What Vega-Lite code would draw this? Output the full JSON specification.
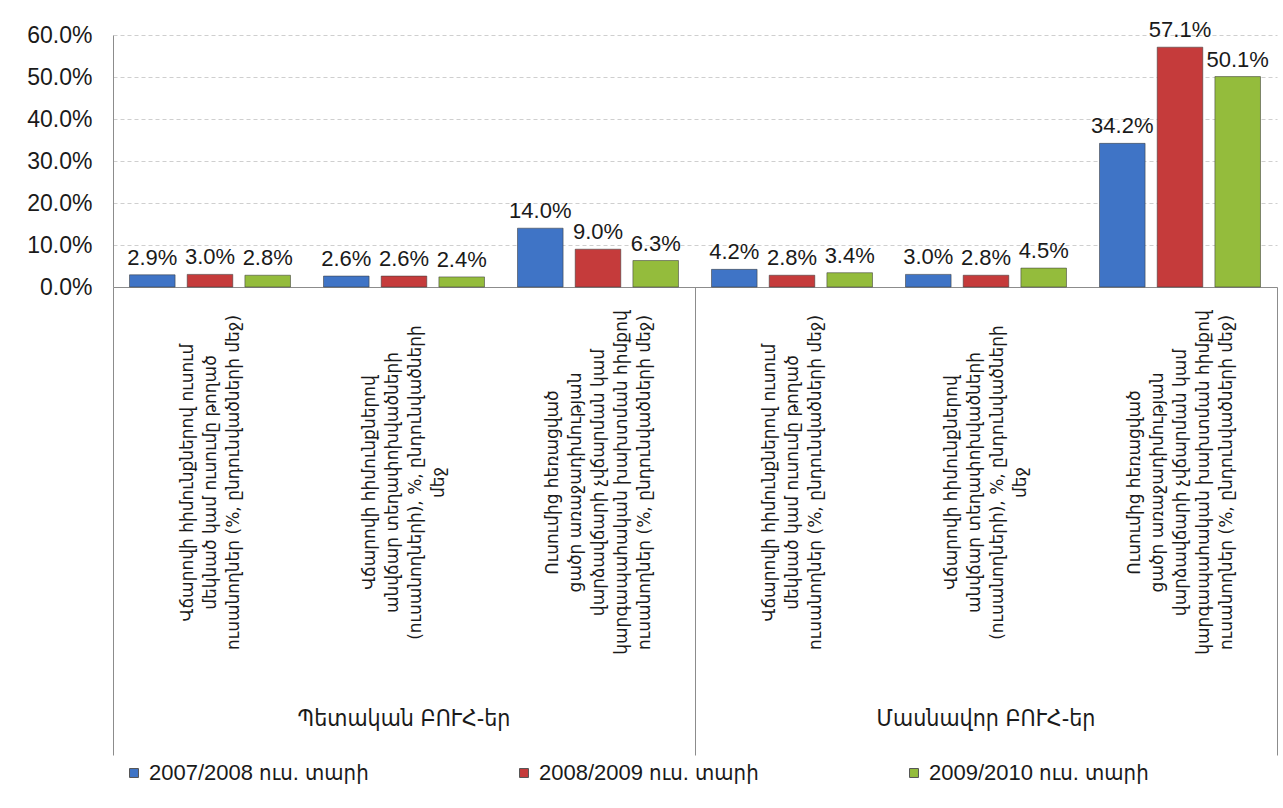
{
  "$schema": "https://vega.github.io/schema/vega-lite/v6.json",
  "width": 1164,
  "height": 252,
  "autosize": "none",
  "padding": {"left": 113, "top": 35, "right": 6, "bottom": 521},
  "background": "white",
  "config": {"view": {"stroke": null}, "font": "Liberation Sans, DejaVu Sans"},
  "datasets": {
    "bars": [
      {"col": "Պետական ԲՈՒՀ-եր: Վճարովի հիմունքներով ուսում|մեկնած կամ ուսումը թողած|ուսանողներ (%, ընդունվածների մեջ)", "year": "2007/2008 ուս. տարի", "share": 0.029},
      {"col": "Պետական ԲՈՒՀ-եր: Վճարովի հիմունքներով ուսում|մեկնած կամ ուսումը թողած|ուսանողներ (%, ընդունվածների մեջ)", "year": "2008/2009 ուս. տարի", "share": 0.030},
      {"col": "Պետական ԲՈՒՀ-եր: Վճարովի հիմունքներով ուսում|մեկնած կամ ուսումը թողած|ուսանողներ (%, ընդունվածների մեջ)", "year": "2009/2010 ուս. տարի", "share": 0.028},
      {"col": "Պետական ԲՈՒՀ-եր: Վճարովի հիմունքներով|անվճար տեղափոխվածների|(ուսանողների), %, ընդունվածների|մեջ", "year": "2007/2008 ուս. տարի", "share": 0.026},
      {"col": "Պետական ԲՈՒՀ-եր: Վճարովի հիմունքներով|անվճար տեղափոխվածների|(ուսանողների), %, ընդունվածների|մեջ", "year": "2008/2009 ուս. տարի", "share": 0.026},
      {"col": "Պետական ԲՈՒՀ-եր: Վճարովի հիմունքներով|անվճար տեղափոխվածների|(ուսանողների), %, ընդունվածների|մեջ", "year": "2009/2010 ուս. տարի", "share": 0.024},
      {"col": "Պետական ԲՈՒՀ-եր: Ուսումից հեռացված|ցածր առաջադիմության|վարձավճարի չվճարման կամ|կարգապահական խախտման հիմքով|ուսանողներ (%, ընդունվածների մեջ)", "year": "2007/2008 ուս. տարի", "share": 0.140},
      {"col": "Պետական ԲՈՒՀ-եր: Ուսումից հեռացված|ցածր առաջադիմության|վարձավճարի չվճարման կամ|կարգապահական խախտման հիմքով|ուսանողներ (%, ընդունվածների մեջ)", "year": "2008/2009 ուս. տարի", "share": 0.090},
      {"col": "Պետական ԲՈՒՀ-եր: Ուսումից հեռացված|ցածր առաջադիմության|վարձավճարի չվճարման կամ|կարգապահական խախտման հիմքով|ուսանողներ (%, ընդունվածների մեջ)", "year": "2009/2010 ուս. տարի", "share": 0.063},
      {"col": "Մասնավոր ԲՈՒՀ-եր: Վճարովի հիմունքներով ուսում|մեկնած կամ ուսումը թողած|ուսանողներ (%, ընդունվածների մեջ)", "year": "2007/2008 ուս. տարի", "share": 0.042},
      {"col": "Մասնավոր ԲՈՒՀ-եր: Վճարովի հիմունքներով ուսում|մեկնած կամ ուսումը թողած|ուսանողներ (%, ընդունվածների մեջ)", "year": "2008/2009 ուս. տարի", "share": 0.028},
      {"col": "Մասնավոր ԲՈՒՀ-եր: Վճարովի հիմունքներով ուսում|մեկնած կամ ուսումը թողած|ուսանողներ (%, ընդունվածների մեջ)", "year": "2009/2010 ուս. տարի", "share": 0.034},
      {"col": "Մասնավոր ԲՈՒՀ-եր: Վճարովի հիմունքներով|անվճար տեղափոխվածների|(ուսանողների), %, ընդունվածների|մեջ", "year": "2007/2008 ուս. տարի", "share": 0.030},
      {"col": "Մասնավոր ԲՈՒՀ-եր: Վճարովի հիմունքներով|անվճար տեղափոխվածների|(ուսանողների), %, ընդունվածների|մեջ", "year": "2008/2009 ուս. տարի", "share": 0.028},
      {"col": "Մասնավոր ԲՈՒՀ-եր: Վճարովի հիմունքներով|անվճար տեղափոխվածների|(ուսանողների), %, ընդունվածների|մեջ", "year": "2009/2010 ուս. տարի", "share": 0.045},
      {"col": "Մասնավոր ԲՈՒՀ-եր: Ուսումից հեռացված|ցածր առաջադիմության|վարձավճարի չվճարման կամ|կարգապահական խախտման հիմքով|ուսանողներ (%, ընդունվածների մեջ)", "year": "2007/2008 ուս. տարի", "share": 0.342},
      {"col": "Մասնավոր ԲՈՒՀ-եր: Ուսումից հեռացված|ցածր առաջադիմության|վարձավճարի չվճարման կամ|կարգապահական խախտման հիմքով|ուսանողներ (%, ընդունվածների մեջ)", "year": "2008/2009 ուս. տարի", "share": 0.571},
      {"col": "Մասնավոր ԲՈՒՀ-եր: Ուսումից հեռացված|ցածր առաջադիմության|վարձավճարի չվճարման կամ|կարգապահական խախտման հիմքով|ուսանողներ (%, ընդունվածների մեջ)", "year": "2009/2010 ուս. տարի", "share": 0.501}
    ],
    "groups": [
      {"col": "Պետական ԲՈՒՀ-եր: Վճարովի հիմունքներով|անվճար տեղափոխվածների|(ուսանողների), %, ընդունվածների|մեջ", "group": "Պետական ԲՈՒՀ-եր"},
      {"col": "Մասնավոր ԲՈՒՀ-եր: Վճարովի հիմունքներով|անվճար տեղափոխվածների|(ուսանողների), %, ընդունվածների|մեջ", "group": "Մասնավոր ԲՈՒՀ-եր"}
    ]
  },
  "layer": [
    {
      "data": {"name": "bars"},
      "mark": {"type": "bar", "stroke": "#3a3a3a", "strokeOpacity": 0.55, "strokeWidth": 1},
      "encoding": {
        "x": {
          "field": "col", "type": "nominal", "sort": null,
          "scale": {"paddingInner": 0, "paddingOuter": 0},
          "axis": {
            "title": null,
            "labelExpr": "datum.label ? split(split(datum.label, ': ')[1], '|') : ''",
            "labelAngle": -90,
            "labelAlign": "center",
            "labelBaseline": "middle",
            "labelFont": "DejaVu Sans",
            "labelFontSize": 17,
            "labelLineHeight": 23,
            "labelColor": "#1a1a1a",
            "labelLimit": 1000,
            "labelOverlap": false,
            "labelPadding": -273,
            "labelOffset": {"condition": [
              {"test": "length(split(datum.label, '|')) >= 5", "value": -46},
              {"test": "length(split(datum.label, '|')) == 4", "value": -34.5}
            ], "value": -23},
            "tickBand": "extent",
            "tickSize": 468,
            "tickWidth": 1,
            "tickColor": {"condition": {"test": "datum.index < 0 || abs(datum.index - 0.4) < 0.01 || datum.index > 0.99", "value": "#8c8c8c"}, "value": "rgba(0,0,0,0)"},
            "domainColor": "#8c8c8c"
          }
        },
        "xOffset": {"field": "year", "type": "nominal", "sort": null, "scale": {"paddingInner": 0.21, "paddingOuter": 0.286}},
        "y": {
          "field": "share", "type": "quantitative",
          "scale": {"domain": [0, 0.6], "nice": false},
          "axis": {
            "title": null,
            "values": [0, 0.1, 0.2, 0.3, 0.4, 0.5, 0.6],
            "format": ".1%",
            "ticks": false,
            "labelPadding": 21,
            "labelFont": "Liberation Sans",
            "labelFontSize": 23,
            "labelColor": "#1a1a1a",
            "domainColor": "#8c8c8c",
            "gridColor": "#cfcfcf",
            "gridDash": [4, 3]
          }
        },
        "color": {
          "field": "year", "type": "nominal", "sort": null,
          "scale": {"range": ["#3f74c6", "#c53b3b", "#94bc3c"]},
          "legend": {
            "title": null,
            "orient": "none",
            "legendX": 10,
            "legendY": 727,
            "direction": "horizontal",
            "columns": 3,
            "gridAlign": "all",
            "columnPadding": 144,
            "symbolType": "square",
            "symbolSize": 80,
            "symbolStrokeColor": "#555555",
            "symbolStrokeWidth": 1,
            "labelFont": "Liberation Sans, DejaVu Sans Condensed, DejaVu Sans",
            "labelFontSize": 22,
            "labelColor": "#1a1a1a",
            "labelLimit": 400,
            "labelOffset": 4
          }
        }
      }
    },
    {
      "data": {"name": "bars"},
      "mark": {"type": "text", "baseline": "bottom", "dy": -5, "font": "Liberation Sans", "fontSize": 22, "color": "#1a1a1a"},
      "encoding": {
        "x": {"field": "col", "type": "nominal", "sort": null},
        "xOffset": {"field": "year", "type": "nominal", "sort": null},
        "y": {"field": "share", "type": "quantitative", "scale": {"domain": [0, 0.6], "nice": false}},
        "text": {"field": "share", "type": "quantitative", "format": ".1%"}
      }
    },
    {
      "data": {"name": "groups"},
      "mark": {"type": "text", "baseline": "middle", "font": "DejaVu Sans Condensed, DejaVu Sans", "fontSize": 23, "color": "#1a1a1a"},
      "encoding": {
        "x": {"field": "col", "type": "nominal", "sort": null},
        "y": {"datum": -1.028, "type": "quantitative", "scale": {"domain": [0, 0.6], "nice": false}},
        "text": {"field": "group"}
      }
    }
  ]
}
